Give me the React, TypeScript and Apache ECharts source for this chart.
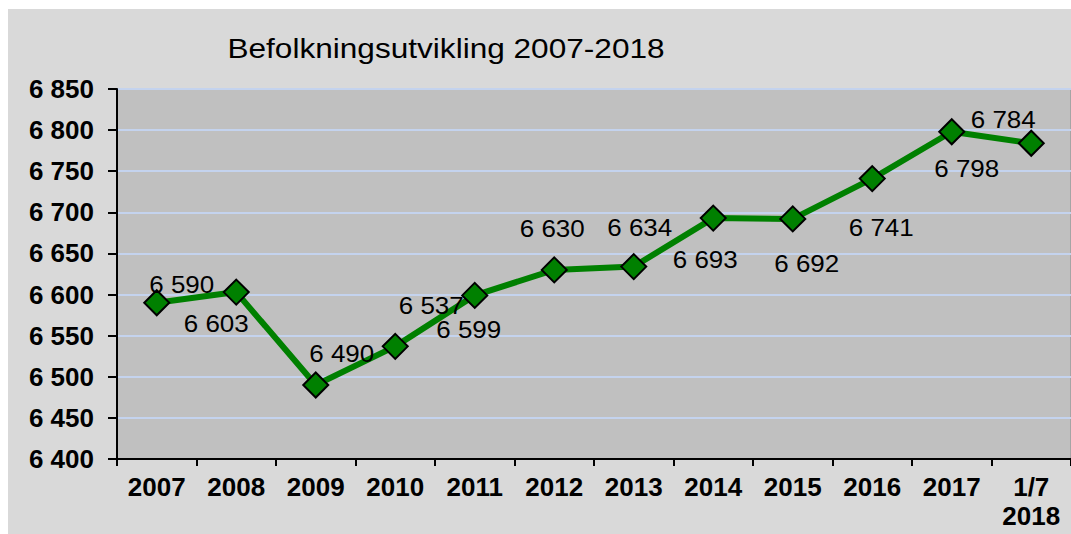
import React, { useEffect, useRef } from "react";
import * as echarts from "echarts";

const categories = ["2007", "2008", "2009", "2010", "2011", "2012", "2013", "2014", "2015", "2016", "2017", "1/7\n2018"];
const population = [6590, 6603, 6490, 6537, 6599, 6630, 6634, 6693, 6692, 6741, 6798, 6784];
const yMin = 6400;
const yMax = 6850;
const yStep = 50;
const title = "Befolkningsutvikling 2007-2018";

// label placement (layout only): offset of each value label from its point, px
const labelOffsets = [
  [25, -18], [-20, 32], [26, -31], [36, -40], [-6, 35], [-2, -41],
  [6, -39], [-8, 42], [14, 45], [9, 49], [15, 37], [-28, -23],
];

const fmt = (v: number) => {
  const th = Math.floor(v / 1000);
  const rest = String(v % 1000).padStart(3, "0");
  return th > 0 ? `${th} ${rest}` : String(v);
};

export default function App() {
  const ref = useRef<HTMLDivElement>(null);
  useEffect(() => {
    if (!ref.current) return;
    const chart = echarts.init(ref.current, null, { renderer: "svg" });
    chart.setOption({
      animation: false,
      backgroundColor: "#d9d9d9",
      graphic: [
        {
          type: "text",
          x: 438,
          y: 39,
          scaleX: 1.17,
          style: {
            text: title,
            font: '27px "Liberation Sans", Arial, sans-serif',
            fill: "#000",
            align: "center",
            verticalAlign: "middle",
          },
        },
      ],
      grid: {
        left: 109,
        right: 0,
        top: 80,
        bottom: 75,
        show: true,
        backgroundColor: "#c0c0c0",
        borderColor: "#8a8a8a",
        borderWidth: 1,
      },
      xAxis: {
        type: "category",
        data: categories,
        boundaryGap: true,
        axisLine: { show: true, lineStyle: { color: "#000", width: 2 } },
        axisTick: { show: true, length: 7, lineStyle: { color: "#000", width: 2 } },
        axisLabel: {
          margin: 13,
          color: "#000",
          fontFamily: '"Liberation Sans", Arial, sans-serif',
          fontWeight: "bold",
          fontSize: 26,
          lineHeight: 29,
          interval: 0,
        },
        splitLine: { show: false },
      },
      yAxis: {
        type: "value",
        min: yMin,
        max: yMax,
        interval: yStep,
        axisLine: { show: true, lineStyle: { color: "#000", width: 2 } },
        axisTick: { show: true, length: 9, lineStyle: { color: "#000", width: 2 } },
        axisLabel: {
          margin: 23,
          color: "#000",
          fontFamily: '"Liberation Sans", Arial, sans-serif',
          fontWeight: "bold",
          fontSize: 26,
          formatter: (v: number) => fmt(v),
        },
        splitLine: { show: true, lineStyle: { color: "#c4d3ee", width: 2 } },
      },
      series: [
        {
          type: "line",
          data: population,
          symbol: "diamond",
          symbolSize: 25,
          lineStyle: { color: "#008000", width: 6 },
          itemStyle: { color: "#008000", borderColor: "#000", borderWidth: 2 },
          label: { show: false },
          z: 3,
        },
        {
          type: "custom",
          data: population.map((v, i) => [i, v]),
          z: 5,
          renderItem: (params: any, api: any) => {
            const i = params.dataIndex;
            const v = api.value(1);
            const p = api.coord([api.value(0), v]);
            const off = labelOffsets[i] || [0, 0];
            return {
              type: "text",
              x: p[0] + off[0],
              y: p[1] + off[1],
              scaleX: 1.13,
              style: {
                text: fmt(v),
                font: '23px "Liberation Sans", Arial, sans-serif',
                fill: "#000",
                align: "center",
                verticalAlign: "middle",
              },
            };
          },
        },
      ],
    });
    return () => chart.dispose();
  }, []);
  return (
    <div
      ref={ref}
      style={{ position: "fixed", left: 8, top: 9, width: 1063, height: 525 }}
    />
  );
}
